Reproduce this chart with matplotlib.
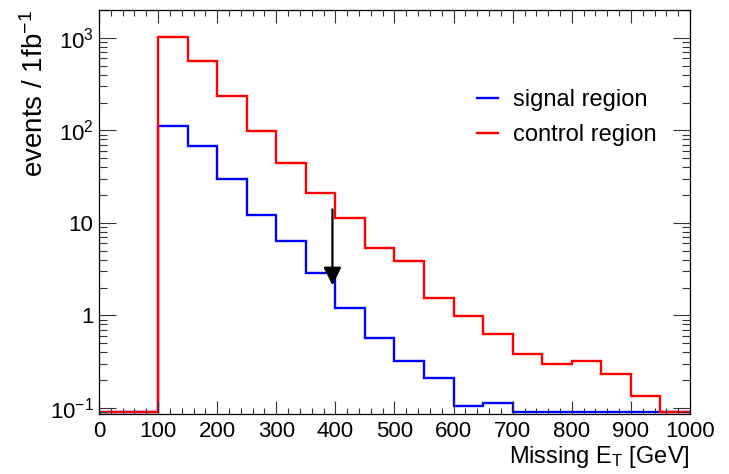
import numpy as np
import matplotlib
matplotlib.use("Agg")
import matplotlib.pyplot as plt
from matplotlib.ticker import FixedLocator, MultipleLocator, LogLocator, NullFormatter

plt.rcParams["font.family"] = ["Liberation Sans", "DejaVu Sans"]
plt.rcParams["mathtext.fontset"] = "custom"
plt.rcParams["mathtext.rm"] = "Liberation Sans"
plt.rcParams["mathtext.it"] = "Liberation Sans:italic"

# bin edges in GeV (50 GeV bins)
edges = np.arange(0, 1001, 50)
# events / 1fb^-1 per bin, 0 = empty bin
signal = [0, 0, 112, 68, 29.5, 12.2, 6.3, 2.9, 1.2, 0.57, 0.32, 0.21,
          0.106, 0.112, 0, 0, 0, 0, 0, 0]
control = [0, 0, 1030, 560, 234, 98, 44, 21, 11.2, 5.3, 3.9, 1.55,
           0.98, 0.63, 0.38, 0.295, 0.32, 0.235, 0.133, 0]
# cut arrow: x position, start and end value
cut_x = 395
cut_top, cut_tip = 14.0, 2.12

yticks = [0.1, 1, 10, 100, 1000]
ytick_labels = [r"$10^{-1}$", "1", "10", r"$10^{2}$", r"$10^{3}$"]

ymin, ymax = 0.086, 2000
floor = ymin * 1.05   # empty bins sit on the bottom of the frame


def at_floor(v):
    v = np.asarray(v, dtype=float)
    return np.where(v > 0, v, floor)


fig = plt.figure(figsize=(7.29, 4.74), dpi=100)
ax = fig.add_axes([99 / 729, 60 / 474, 591 / 729, 404 / 474])

ax.stairs(at_floor(signal), edges, color="#0000ff", lw=1.7, baseline=None,
          label="signal region")
ax.stairs(at_floor(control), edges, color="#ff0000", lw=1.7, baseline=None,
          label="control region")

ax.annotate("", xy=(cut_x, cut_tip), xytext=(cut_x, cut_top),
            arrowprops=dict(arrowstyle="-|>", color="black", lw=1.6,
                            mutation_scale=27, shrinkA=0, shrinkB=0))

ax.set_yscale("log")
ax.set_xlim(0, 1000)
ax.set_ylim(ymin, ymax)

ax.xaxis.set_major_locator(MultipleLocator(100))
ax.xaxis.set_minor_locator(MultipleLocator(20))
ax.yaxis.set_major_locator(FixedLocator(yticks))
ax.set_yticklabels(ytick_labels)
ax.yaxis.set_minor_locator(LogLocator(base=10, subs=np.arange(2, 10)))
ax.yaxis.set_minor_formatter(NullFormatter())

ax.tick_params(which="both", direction="in", top=True, right=True,
               width=0.8, colors="#333333", labelcolor="black", labelsize=16)
ax.tick_params(axis="x", which="major", length=9.5, pad=5)
ax.tick_params(axis="x", which="minor", length=4.5)
ax.tick_params(axis="y", which="major", length=12, pad=4)
ax.tick_params(axis="y", which="minor", length=5.5)
for s in ax.spines.values():
    s.set_linewidth(0.9)

ax.set_xlabel(r"Missing E$_{\mathrm{T}}$ [GeV]", fontsize=17, loc="right")
ax.xaxis.set_label_coords(1.0, -0.075)
ax.set_ylabel(r"events / 1fb$^{-1}$", fontsize=20, loc="top")
ax.yaxis.set_label_coords(-0.085, 1.0)

ax.legend(loc="upper left", bbox_to_anchor=(0.64, 0.804), frameon=False,
          fontsize=17, handlelength=0.9, handletextpad=0.6, labelspacing=0.55,
          borderaxespad=0, borderpad=0)

fig.savefig("out.png", dpi=100)
